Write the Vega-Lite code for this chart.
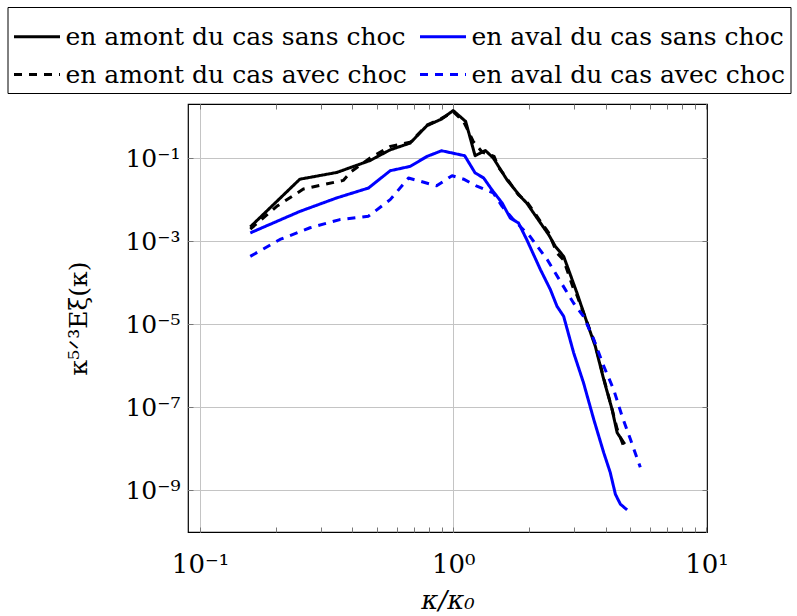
{
  "$schema": "https://vega.github.io/schema/vega-lite/v6.json",
  "width": 519,
  "height": 428,
  "autosize": {"type": "none"},
  "padding": {"left": 188, "top": 104, "right": 90, "bottom": 84},
  "config": {"view": {"stroke": "black", "strokeWidth": 1.2}, "font": "DejaVu Serif"},
  "datasets": {
    "spectra": [
      {"k": 0.158, "E": 0.0022, "series": "en amont du cas sans choc"},
      {"k": 0.248, "E": 0.031, "series": "en amont du cas sans choc"},
      {"k": 0.347, "E": 0.045, "series": "en amont du cas sans choc"},
      {"k": 0.47, "E": 0.0875, "series": "en amont du cas sans choc"},
      {"k": 0.564, "E": 0.158, "series": "en amont du cas sans choc"},
      {"k": 0.676, "E": 0.229, "series": "en amont du cas sans choc"},
      {"k": 0.787, "E": 0.6, "series": "en amont du cas sans choc"},
      {"k": 0.9, "E": 0.87, "series": "en amont du cas sans choc"},
      {"k": 1.0, "E": 1.39, "series": "en amont du cas sans choc"},
      {"k": 1.12, "E": 0.76, "series": "en amont du cas sans choc"},
      {"k": 1.22, "E": 0.114, "series": "en amont du cas sans choc"},
      {"k": 1.34, "E": 0.152, "series": "en amont du cas sans choc"},
      {"k": 1.44, "E": 0.1, "series": "en amont du cas sans choc"},
      {"k": 1.63, "E": 0.03, "series": "en amont du cas sans choc"},
      {"k": 1.84, "E": 0.012, "series": "en amont du cas sans choc"},
      {"k": 1.95, "E": 0.0083, "series": "en amont du cas sans choc"},
      {"k": 2.21, "E": 0.00275, "series": "en amont du cas sans choc"},
      {"k": 2.38, "E": 0.00144, "series": "en amont du cas sans choc"},
      {"k": 2.53, "E": 0.00075, "series": "en amont du cas sans choc"},
      {"k": 2.73, "E": 0.00043, "series": "en amont du cas sans choc"},
      {"k": 2.85, "E": 0.00021, "series": "en amont du cas sans choc"},
      {"k": 3.08, "E": 0.000057, "series": "en amont du cas sans choc"},
      {"k": 3.38, "E": 0.0000107, "series": "en amont du cas sans choc"},
      {"k": 3.64, "E": 0.00000295, "series": "en amont du cas sans choc"},
      {"k": 3.93, "E": 0.00000047, "series": "en amont du cas sans choc"},
      {"k": 4.24, "E": 0.000000089, "series": "en amont du cas sans choc"},
      {"k": 4.44, "E": 0.0000000245, "series": "en amont du cas sans choc"},
      {"k": 4.76, "E": 0.000000013, "series": "en amont du cas sans choc"},

      {"k": 0.158, "E": 0.00158, "series": "en aval du cas sans choc"},
      {"k": 0.248, "E": 0.0052, "series": "en aval du cas sans choc"},
      {"k": 0.347, "E": 0.011, "series": "en aval du cas sans choc"},
      {"k": 0.463, "E": 0.019, "series": "en aval du cas sans choc"},
      {"k": 0.564, "E": 0.0496, "series": "en aval du cas sans choc"},
      {"k": 0.676, "E": 0.063, "series": "en aval du cas sans choc"},
      {"k": 0.787, "E": 0.109, "series": "en aval du cas sans choc"},
      {"k": 0.9, "E": 0.15, "series": "en aval du cas sans choc"},
      {"k": 1.11, "E": 0.114, "series": "en aval du cas sans choc"},
      {"k": 1.22, "E": 0.044, "series": "en aval du cas sans choc"},
      {"k": 1.32, "E": 0.033, "series": "en aval du cas sans choc"},
      {"k": 1.42, "E": 0.0174, "series": "en aval du cas sans choc"},
      {"k": 1.56, "E": 0.0083, "series": "en aval du cas sans choc"},
      {"k": 1.68, "E": 0.0036, "series": "en aval du cas sans choc"},
      {"k": 1.81, "E": 0.00275, "series": "en aval du cas sans choc"},
      {"k": 1.95, "E": 0.0011, "series": "en aval du cas sans choc"},
      {"k": 2.21, "E": 0.000207, "series": "en aval du cas sans choc"},
      {"k": 2.42, "E": 0.000068, "series": "en aval du cas sans choc"},
      {"k": 2.57, "E": 0.000027, "series": "en aval du cas sans choc"},
      {"k": 2.73, "E": 0.0000155, "series": "en aval du cas sans choc"},
      {"k": 2.99, "E": 0.00000205, "series": "en aval du cas sans choc"},
      {"k": 3.27, "E": 0.00000039, "series": "en aval du cas sans choc"},
      {"k": 3.59, "E": 0.000000051, "series": "en aval du cas sans choc"},
      {"k": 3.93, "E": 0.0000000081, "series": "en aval du cas sans choc"},
      {"k": 4.17, "E": 0.0000000027, "series": "en aval du cas sans choc"},
      {"k": 4.37, "E": 0.00000000081, "series": "en aval du cas sans choc"},
      {"k": 4.57, "E": 0.00000000047, "series": "en aval du cas sans choc"},
      {"k": 4.86, "E": 0.00000000034, "series": "en aval du cas sans choc"},

      {"k": 0.158, "E": 0.00195, "series": "en amont du cas avec choc"},
      {"k": 0.201, "E": 0.0069, "series": "en amont du cas avec choc"},
      {"k": 0.256, "E": 0.018, "series": "en amont du cas avec choc"},
      {"k": 0.368, "E": 0.029, "series": "en amont du cas avec choc"},
      {"k": 0.397, "E": 0.048, "series": "en amont du cas avec choc"},
      {"k": 0.47, "E": 0.1, "series": "en amont du cas avec choc"},
      {"k": 0.564, "E": 0.19, "series": "en amont du cas avec choc"},
      {"k": 0.676, "E": 0.24, "series": "en amont du cas avec choc"},
      {"k": 0.787, "E": 0.62, "series": "en amont du cas avec choc"},
      {"k": 0.9, "E": 0.9, "series": "en amont du cas avec choc"},
      {"k": 1.0, "E": 1.3, "series": "en amont du cas avec choc"},
      {"k": 1.1, "E": 0.75, "series": "en amont du cas avec choc"},
      {"k": 1.2, "E": 0.25, "series": "en amont du cas avec choc"},
      {"k": 1.3, "E": 0.14, "series": "en amont du cas avec choc"},
      {"k": 1.45, "E": 0.11, "series": "en amont du cas avec choc"},
      {"k": 1.51, "E": 0.06, "series": "en amont du cas avec choc"},
      {"k": 1.63, "E": 0.032, "series": "en amont du cas avec choc"},
      {"k": 1.81, "E": 0.013, "series": "en amont du cas avec choc"},
      {"k": 1.95, "E": 0.009, "series": "en amont du cas avec choc"},
      {"k": 2.21, "E": 0.003, "series": "en amont du cas avec choc"},
      {"k": 2.38, "E": 0.0016, "series": "en amont du cas avec choc"},
      {"k": 2.57, "E": 0.00052, "series": "en amont du cas avec choc"},
      {"k": 2.73, "E": 0.00035, "series": "en amont du cas avec choc"},
      {"k": 2.99, "E": 0.00007, "series": "en amont du cas avec choc"},
      {"k": 3.08, "E": 0.00005, "series": "en amont du cas avec choc"},
      {"k": 3.38, "E": 0.000011, "series": "en amont du cas avec choc"},
      {"k": 3.64, "E": 0.0000033, "series": "en amont du cas avec choc"},
      {"k": 3.93, "E": 0.0000005, "series": "en amont du cas avec choc"},
      {"k": 4.24, "E": 0.00000009, "series": "en amont du cas avec choc"},
      {"k": 4.44, "E": 0.00000003, "series": "en amont du cas avec choc"},
      {"k": 4.78, "E": 0.0000000093, "series": "en amont du cas avec choc"},

      {"k": 0.158, "E": 0.00043, "series": "en aval du cas avec choc"},
      {"k": 0.207, "E": 0.0011, "series": "en aval du cas avec choc"},
      {"k": 0.272, "E": 0.0021, "series": "en aval du cas avec choc"},
      {"k": 0.357, "E": 0.0033, "series": "en aval du cas avec choc"},
      {"k": 0.463, "E": 0.004, "series": "en aval du cas avec choc"},
      {"k": 0.564, "E": 0.01, "series": "en aval du cas avec choc"},
      {"k": 0.666, "E": 0.033, "series": "en aval du cas avec choc"},
      {"k": 0.86, "E": 0.0215, "series": "en aval du cas avec choc"},
      {"k": 0.99, "E": 0.0376, "series": "en aval du cas avec choc"},
      {"k": 1.1, "E": 0.031, "series": "en aval du cas avec choc"},
      {"k": 1.24, "E": 0.021, "series": "en aval du cas avec choc"},
      {"k": 1.44, "E": 0.0145, "series": "en aval du cas avec choc"},
      {"k": 1.56, "E": 0.0069, "series": "en aval du cas avec choc"},
      {"k": 1.73, "E": 0.0033, "series": "en aval du cas avec choc"},
      {"k": 2.01, "E": 0.0013, "series": "en aval du cas avec choc"},
      {"k": 2.35, "E": 0.00036, "series": "en aval du cas avec choc"},
      {"k": 2.75, "E": 0.000074, "series": "en aval du cas avec choc"},
      {"k": 2.99, "E": 0.000032, "series": "en aval du cas avec choc"},
      {"k": 3.27, "E": 0.0000155, "series": "en aval du cas avec choc"},
      {"k": 3.59, "E": 0.0000043, "series": "en aval du cas avec choc"},
      {"k": 3.93, "E": 0.00000098, "series": "en aval du cas avec choc"},
      {"k": 4.3, "E": 0.00000027, "series": "en aval du cas avec choc"},
      {"k": 4.64, "E": 0.000000062, "series": "en aval du cas avec choc"},
      {"k": 5.01, "E": 0.000000017, "series": "en aval du cas avec choc"},
      {"k": 5.48, "E": 0.0000000036, "series": "en aval du cas avec choc"}
    ]
  },
  "data": {"name": "spectra"},
  "encoding": {
    "x": {"field": "k", "type": "quantitative", "scale": {"type": "log", "domain": [0.0897, 10.05]}},
    "y": {"field": "E", "type": "quantitative", "scale": {"type": "log", "domain": [1e-10, 2]}}
  },
  "layer": [
    {
      "transform": [{"filter": "false"}],
      "mark": {"type": "line", "opacity": 0},
      "encoding": {
        "x": {"field": "k", "type": "quantitative", "axis": {"orient": "bottom", "values": [0.1, 1, 10], "grid": true, "gridColor": "#c4c4c4", "gridWidth": 1, "ticks": false, "labels": false, "domain": false, "title": null}},
        "y": {"field": "E", "type": "quantitative", "axis": null}
      }
    },
    {
      "mark": {"type": "line", "strokeWidth": 3, "strokeJoin": "round"},
      "encoding": {
        "x": {"field": "k", "type": "quantitative", "axis": {
          "orient": "bottom",
          "values": [0.1, 0.2, 0.3, 0.4, 0.5, 0.6, 0.7, 0.8, 0.9, 1, 2, 3, 4, 5, 6, 7, 8, 9, 10],
          "labelExpr": "datum.value == 0.1 ? '10⁻¹' : datum.value == 1 ? '10⁰' : datum.value == 10 ? '10¹' : ''",
          "grid": false, "domain": false, "ticks": true, "tickSize": -5, "tickColor": "#777", "tickWidth": 1,
          "labelFont": "DejaVu Serif", "labelFontSize": 26, "labelColor": "black", "labelPadding": 24, "labelOverlap": false, "labelFlush": false, "labelBound": false,
          "title": "κ/κ₀", "titleFont": "DejaVu Serif", "titleFontSize": 26, "titleFontWeight": "normal", "titleFontStyle": "italic", "titleColor": "black", "titlePadding": 10
        }},
        "y": {"field": "E", "type": "quantitative", "axis": {
          "orient": "left",
          "values": [0.1, 0.001, 0.00001, 0.0000001, 0.000000001],
          "labelExpr": "datum.value > 0.01 ? '10⁻¹' : datum.value > 0.0001 ? '10⁻³' : datum.value > 0.000001 ? '10⁻⁵' : datum.value > 0.00000001 ? '10⁻⁷' : '10⁻⁹'",
          "grid": true, "gridColor": "#c4c4c4", "gridWidth": 1, "domain": false, "ticks": true, "tickSize": -5, "tickColor": "#777",
          "labelFont": "DejaVu Serif", "labelFontSize": 25, "labelColor": "black", "labelPadding": 13, "labelOverlap": false, "labelFlush": false, "labelBound": false,
          "title": "κ⁵ᐟ³Eξ(κ)", "titleFont": "DejaVu Serif", "titleFontSize": 25, "titleFontWeight": "normal", "titleColor": "black", "titleX": -110, "titleY": 214, "titleAngle": -90, "titleBaseline": "middle", "titleAlign": "center"
        }},
        "color": {"field": "series", "type": "nominal",
          "scale": {"domain": ["en amont du cas sans choc", "en amont du cas avec choc", "en aval du cas sans choc", "en aval du cas avec choc"], "range": ["#000000", "#000000", "#0000ff", "#0000ff"]},
          "legend": {"orient": "none", "legendX": -180.5, "legendY": -97, "columns": 2, "title": null, "symbolType": "stroke", "symbolSize": 2116, "symbolStrokeWidth": 3, "labelFont": "DejaVu Serif", "labelFontSize": 25, "labelColor": "black", "labelLimit": 600, "labelOffset": 4, "strokeColor": "black", "fillColor": "white", "padding": 5, "columnPadding": 6, "rowPadding": 0}
        },
        "strokeDash": {"field": "series", "type": "nominal",
          "scale": {"domain": ["en amont du cas sans choc", "en amont du cas avec choc", "en aval du cas sans choc", "en aval du cas avec choc"], "range": [[1, 0], [8, 7], [1, 0], [8, 7]]},
          "legend": {"orient": "none", "legendX": -180.5, "legendY": -97, "columns": 2, "title": null, "symbolType": "stroke", "symbolSize": 2116, "symbolStrokeWidth": 3, "labelFont": "DejaVu Serif", "labelFontSize": 25, "labelColor": "black", "labelLimit": 600, "labelOffset": 4, "strokeColor": "black", "fillColor": "white", "padding": 5, "columnPadding": 6, "rowPadding": 0}
        }
      }
    },
    {
      "transform": [{"filter": "false"}],
      "mark": {"type": "line", "opacity": 0},
      "encoding": {
        "x": {"field": "k", "type": "quantitative", "axis": {"orient": "top", "values": [0.1, 0.2, 0.3, 0.4, 0.5, 0.6, 0.7, 0.8, 0.9, 1, 2, 3, 4, 5, 6, 7, 8, 9, 10], "ticks": true, "tickSize": -5, "tickColor": "#777", "labels": false, "domain": false, "grid": false, "title": null}},
        "y": {"field": "E", "type": "quantitative", "axis": {"orient": "right", "values": [0.1, 0.001, 0.00001, 0.0000001, 0.000000001], "ticks": true, "tickSize": -5, "tickColor": "#777", "labels": false, "domain": false, "grid": false, "title": null}}
      }
    }
  ],
  "resolve": {"axis": {"x": "independent", "y": "independent"}}
}
